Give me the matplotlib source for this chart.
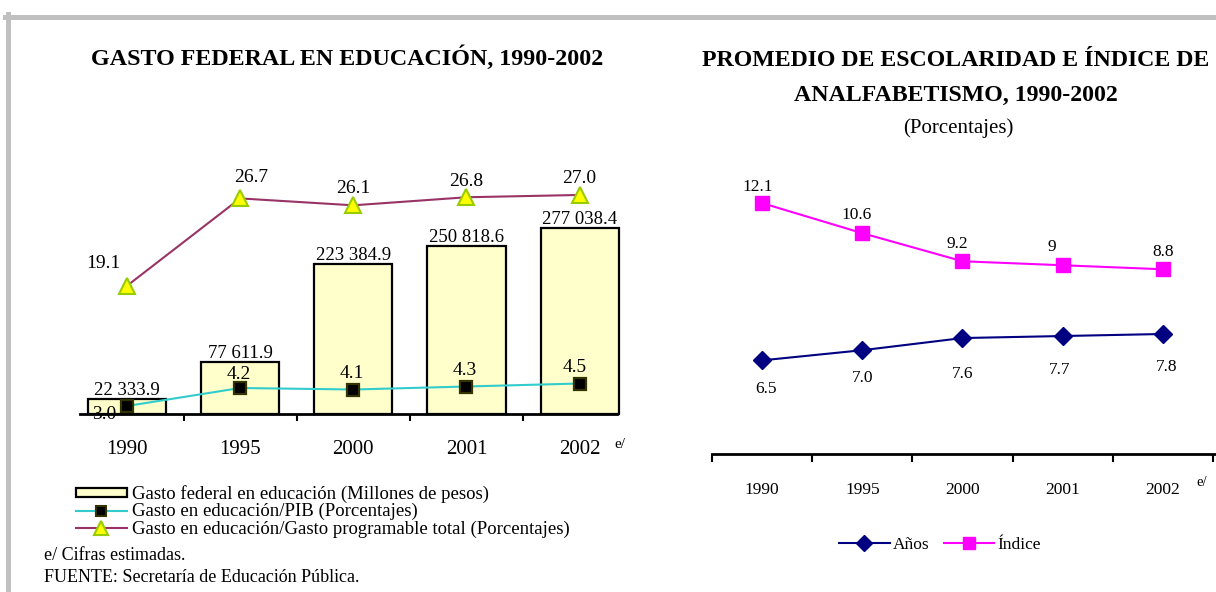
import matplotlib
matplotlib.use("Agg")
import matplotlib.pyplot as plt
from matplotlib.lines import Line2D
from matplotlib.patches import Patch
import numpy as np

plt.rcParams['font.family'] = ['Liberation Serif', 'DejaVu Serif']

# ---- data ----
years = ['1990', '1995', '2000', '2001', '2002']
gasto_federal = [22333.9, 77611.9, 223384.9, 250818.6, 277038.4]   # millones de pesos
gasto_pib = [3.0, 4.2, 4.1, 4.3, 4.5]                               # porcentajes
gasto_programable = [19.1, 26.7, 26.1, 26.8, 27.0]                  # porcentajes

anios = [6.5, 7.0, 7.6, 7.7, 7.8]
indice = [12.1, 10.6, 9.2, 9.0, 8.8]
indice_labels = ['12.1', '10.6', '9.2', '9', '8.8']

W, H = 1216, 592
fig = plt.figure(figsize=(W / 100, H / 100), dpi=100)


def fx(px):
    return px / W


def fy(py):
    return 1 - py / H


# gray frame
fig.add_artist(Line2D([fx(5), 1], [fy(16.5), fy(16.5)], color='#c0c0c0', lw=3.6))
fig.add_artist(Line2D([fx(7.5), fx(7.5)], [fy(14), 0], color='#c0c0c0', lw=3.6))

x = np.arange(len(years))

# ================= left chart =================
ax = fig.add_axes([fx(80), fy(414), fx(617) - fx(80), fy(170) - fy(414)])
bars = ax.bar(x, gasto_federal, width=0.69, color='#ffffcc', edgecolor='black',
              linewidth=1.6, zorder=2)
for b in bars:
    b.set_clip_on(False)
ax.set_xlim(-0.415, 4.33)
ax.set_ylim(0, 277038.4 * 244 / 186)
for xi, v in zip(x, gasto_federal):
    ax.annotate(f"{v:,.1f}".replace(",", " "), (xi, v), xytext=(0, 0),
                textcoords='offset pixels', ha='center', va='bottom', fontsize=13.5)

for s in ['top', 'left', 'right']:
    ax.spines[s].set_visible(False)
ax.spines['bottom'].set_linewidth(2)
ax.set_yticks([])
ax.set_xticks(x)
ax.set_xticklabels(years, fontsize=15)
ax.tick_params(axis='x', which='major', length=0, pad=19)
ax.set_xticks(x[:-1] + 0.5, minor=True)
ax.tick_params(axis='x', which='minor', length=5, width=1.5, direction='out')

ax2 = ax.twinx()
ax2.plot(x, gasto_pib, color='#33cccc', lw=1.5, marker='s', ms=9,
         mfc='black', mec='#333300', mew=1.6, zorder=3)
ax2.set_ylim(2.467, 18.733)
ax2.axis('off')
pib_off = [(-23, -8), (-1, 14), (-1, 16), (-2, 16), (-5, 16)]
for xi, v, o in zip(x, gasto_pib, pib_off):
    ax2.annotate(f"{v:.1f}", (xi, v), xytext=o, textcoords='offset pixels',
                 ha='center', va='center', fontsize=14)

ax3 = ax.twinx()
ax3.plot(x, gasto_programable, color='#993366', lw=1.5, marker='^', ms=11,
         mfc='#ffff00', mec='#99cc00', mew=1.5, zorder=3)
ax3.set_ylim(7.957, 29.17)
ax3.axis('off')
prog_off = [(-24, 22), (11, 21), (0, 17), (0, 16), (0, 16)]
for xi, v, o in zip(x, gasto_programable, prog_off):
    ax3.annotate(f"{v:.1f}", (xi, v), xytext=o, textcoords='offset pixels',
                 ha='center', va='center', fontsize=14)

fig.text(fx(614), fy(445), 'e/', fontsize=11, ha='left', va='center')
fig.text(fx(347), fy(58), 'GASTO FEDERAL EN EDUCACIÓN, 1990-2002', fontsize=17.3,
         fontweight='bold', ha='center', va='center')

handles = [
    Patch(facecolor='#ffffcc', edgecolor='black', linewidth=1.6),
    Line2D([], [], color='#33cccc', lw=1.5, marker='s', ms=7.5, mfc='black',
           mec='#333300', mew=1.5),
    Line2D([], [], color='#993366', lw=1.5, marker='^', ms=10, mfc='#ffff00',
           mec='#99cc00', mew=1.5),
]
labels = ['Gasto federal en educación (Millones de pesos)',
          'Gasto en educación/PIB (Porcentajes)',
          'Gasto en educación/Gasto programable total (Porcentajes)']
fig.legend(handles, labels, loc='upper left', bbox_to_anchor=(fx(76), fy(485)),
           frameon=False, fontsize=13.5, handlelength=2.7, handleheight=0.35,
           labelspacing=0.0, handletextpad=0.3, borderpad=0, borderaxespad=0)

fig.text(fx(44), fy(555), 'e/ Cifras estimadas.', fontsize=13, ha='left', va='center')
fig.text(fx(44), fy(578), 'FUENTE: Secretaría de Educación Pública.', fontsize=13,
         ha='left', va='center')

# ================= right chart =================
axr = fig.add_axes([fx(712), fy(454), 1 - fx(712), fy(170) - fy(454)])
axr.set_xlim(-0.5, 4.53)
axr.plot(x, indice, color='#ff00ff', lw=1.5, marker='s', ms=9.6,
         mfc='#ff00ff', mec='#ff00ff', zorder=3)
axr.set_ylim(-0.41, 13.75)
for xi, v, lab, o in zip(x, indice, indice_labels,
                         [(-4, 16), (-6, 18), (-5, 17), (-11, 18), (0, 17)]):
    axr.annotate(lab, (xi, v), xytext=o, textcoords='offset pixels',
                 ha='center', va='center', fontsize=12.5)
for s in ['top', 'left', 'right']:
    axr.spines[s].set_visible(False)
axr.spines['bottom'].set_linewidth(2)
axr.set_yticks([])
axr.set_xticks(x)
axr.set_xticklabels(years, fontsize=12.5)
axr.tick_params(axis='x', which='major', length=0, pad=20)
axr.set_xticks(np.arange(-0.5, 5, 1.0), minor=True)
axr.tick_params(axis='x', which='minor', length=6, width=1.5, direction='out')

axr2 = axr.twinx()
axr2.plot(x, anios, color='#000080', lw=1.5, marker='D', ms=9.5,
          mfc='#000080', mec='#000080', zorder=3)
axr2.set_ylim(1.88, 15.89)
axr2.axis('off')
for xi, v, o in zip(x, anios, [(4, -29), (0, -28), (0, -36), (-3, -34), (4, -33)]):
    axr2.annotate(f"{v:.1f}", (xi, v), xytext=o, textcoords='offset pixels',
                  ha='center', va='center', fontsize=12.5)

fig.text(fx(1196), fy(482), 'e/', fontsize=10.5, ha='left', va='center')
fig.text(fx(956), fy(60), 'PROMEDIO DE ESCOLARIDAD E ÍNDICE DE', fontsize=17.2,
         fontweight='bold', ha='center', va='center')
fig.text(fx(956), fy(95), 'ANALFABETISMO, 1990-2002', fontsize=17.2,
         fontweight='bold', ha='center', va='center')
fig.text(fx(958), fy(128), '(Porcentajes)', fontsize=15, ha='center', va='center')

rh = [Line2D([], [], color='#000080', lw=1.5, marker='D', ms=8, mfc='#000080', mec='#000080'),
      Line2D([], [], color='#ff00ff', lw=1.5, marker='s', ms=8, mfc='#ff00ff', mec='#ff00ff')]
fig.legend(rh, ['Años', 'Índice'], loc='center', bbox_to_anchor=(fx(940), fy(545)),
           ncol=2, frameon=False, fontsize=12.5, handlelength=2.9, handletextpad=0.2,
           columnspacing=0.8, borderpad=0)

fig.savefig('out.png', dpi=100)
